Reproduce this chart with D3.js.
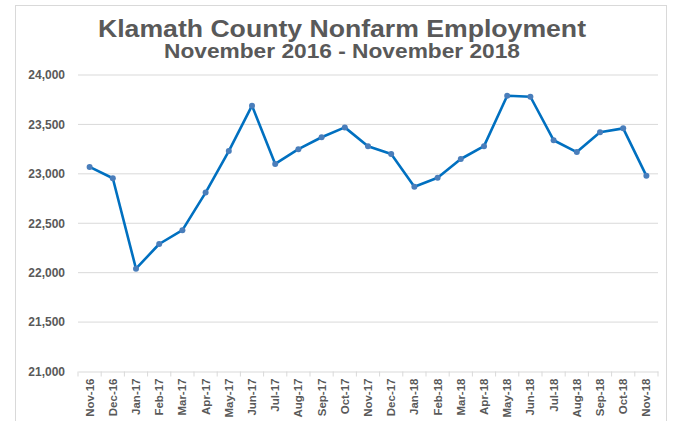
<!DOCTYPE html>
<html><head><meta charset="utf-8"><title>Klamath County Nonfarm Employment</title>
<style>
    body {
        margin: 0;
        padding: 0;
        background: #fff;
        font-family: Arial, "Liberation Sans", sans-serif;
    }
    .title { font-weight: bold; fill: #595959; text-anchor: middle; }
    .axis text { font-weight: bold; fill: #595959; font-size: 12px; font-family: Arial, "Liberation Sans", sans-serif; }
</style>
</head>
<body>
<svg id="chart" width="673" height="421"></svg>
<script src="https://d3js.org/d3.v7.min.js"></script>
<script>
    const months = ["Nov-16","Dec-16","Jan-17","Feb-17","Mar-17","Apr-17","May-17","Jun-17","Jul-17",
        "Aug-17","Sep-17","Oct-17","Nov-17","Dec-17","Jan-18","Feb-18","Mar-18","Apr-18","May-18",
        "Jun-18","Jul-18","Aug-18","Sep-18","Oct-18","Nov-18"];
    const employment = [23070, 22955, 22040, 22290, 22430, 22810, 23230, 23690, 23100,
        23250, 23370, 23470, 23280, 23200, 22870, 22960, 23150, 23280, 23790,
        23780, 23340, 23220, 23420, 23460, 22980];
    const yTicks = [21000, 21500, 22000, 22500, 23000, 23500, 24000];

    const svg = d3.select("#chart");
    const margin = {top: 75, left: 78, right: 15, bottom: 49.5};
    const width = 673 - margin.left - margin.right;
    const height = 421 - margin.top - margin.bottom;

    // chart frame
    svg.append("rect")
        .attr("x", 15.5).attr("y", 5.5)
        .attr("width", 651).attr("height", 430)
        .attr("fill", "none").attr("stroke", "#d9d9d9");

    // titles are stretched a little wider in the original
    svg.append("text").attr("class", "title")
        .attr("x", 342).attr("y", 37)
        .attr("textLength", 488).attr("lengthAdjust", "spacingAndGlyphs")
        .style("font-size", "24px")
        .text("Klamath County Nonfarm Employment");
    svg.append("text").attr("class", "title")
        .attr("x", 342).attr("y", 58)
        .attr("textLength", 356).attr("lengthAdjust", "spacingAndGlyphs")
        .style("font-size", "20px")
        .text("November 2016 - November 2018");

    const g = svg.append("g").attr("transform", `translate(${margin.left},${margin.top})`);

    const x = d3.scaleBand().domain(months).range([0, width]);
    const y = d3.scaleLinear().domain([21000, 24000]).range([height, 0]);

    // gridlines
    g.append("g")
        .selectAll("line")
        .data(yTicks.slice(1))
        .join("line")
        .attr("x1", 0).attr("x2", width)
        .attr("y1", d => y(d)).attr("y2", d => y(d))
        .attr("stroke", "#d9d9d9");

    const yAxis = g.append("g").attr("class", "axis")
        .call(d3.axisLeft(y).tickValues(yTicks).tickFormat(d3.format(",")).tickSize(0).tickPadding(13));
    yAxis.select(".domain").remove();

    const xAxis = g.append("g").attr("class", "axis")
        .attr("transform", `translate(0,${height})`)
        .call(d3.axisBottom(x).tickSize(0).tickPadding(0));
    xAxis.select(".domain").attr("stroke", "#d9d9d9");
    xAxis.selectAll("text")
        .style("font-size", "11.5px")
        .attr("transform", "rotate(-90)")
        .attr("text-anchor", "end")
        .attr("dy", "0.35em")
        .attr("x", -7)
        .attr("y", 0);

    // category boundary ticks
    g.append("g")
        .selectAll("line")
        .data(months.concat(["_end"]))
        .join("line")
        .attr("x1", (d, i) => i * x.bandwidth()).attr("x2", (d, i) => i * x.bandwidth())
        .attr("y1", height).attr("y2", height + 5)
        .attr("stroke", "#d9d9d9");

    const line = d3.line()
        .x((d, i) => x(months[i]) + x.bandwidth() / 2)
        .y(d => y(d));

    g.append("path")
        .datum(employment)
        .attr("fill", "none")
        .attr("stroke", "#0070c0")
        .attr("stroke-width", 2.6)
        .attr("stroke-linejoin", "round")
        .attr("d", line);

    g.append("g")
        .selectAll("circle")
        .data(employment)
        .join("circle")
        .attr("cx", (d, i) => x(months[i]) + x.bandwidth() / 2)
        .attr("cy", d => y(d))
        .attr("r", 3)
        .attr("fill", "#4a7ebb");
</script>
</body>
</html>
